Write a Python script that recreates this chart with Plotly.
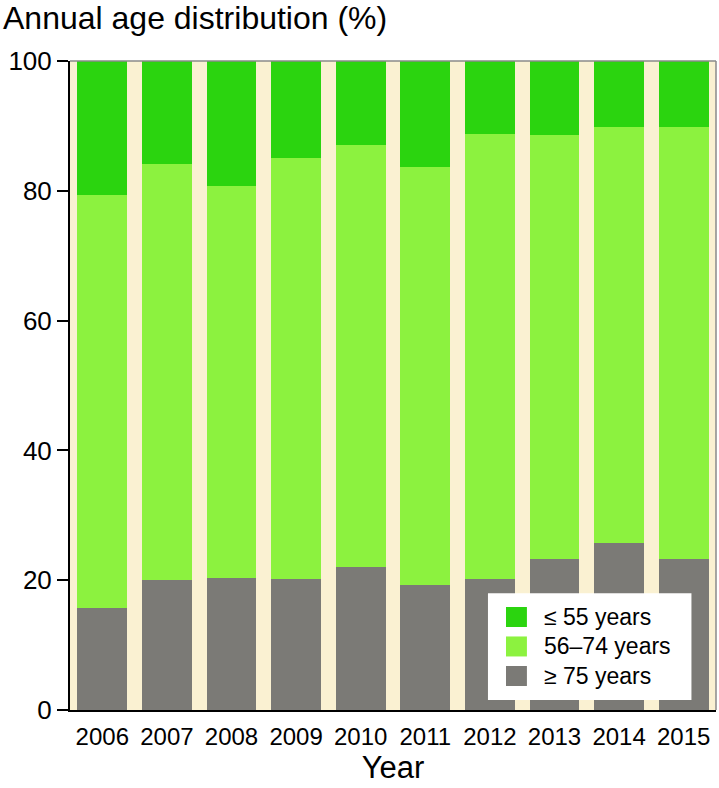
import plotly.graph_objects as go

years = ["2006", "2007", "2008", "2009", "2010", "2011", "2012", "2013", "2014", "2015"]
age_75_plus = [15.7, 20.1, 20.4, 20.2, 22.0, 19.2, 20.2, 23.2, 25.7, 23.2]
age_56_74 = [63.7, 64.0, 60.3, 64.9, 65.0, 64.5, 68.5, 65.4, 64.1, 66.7]
age_55_under = [20.6, 15.9, 19.3, 14.9, 13.0, 16.3, 11.3, 11.4, 10.2, 10.1]
series_names = ["≤ 55 years", "56–74 years", "≥ 75 years"]
y_ticks = [0, 20, 40, 60, 80, 100]

FONT = "Liberation Sans, Arial, Helvetica, sans-serif"
C_DARK = "#2bd40f"
C_LIGHT = "#8cf23f"
C_GRAY = "#7b7a76"

fig = go.Figure()
fig.add_trace(go.Bar(x=years, y=age_75_plus, name=series_names[2],
                     marker=dict(color=C_GRAY, line=dict(width=0))))
fig.add_trace(go.Bar(x=years, y=age_56_74, name=series_names[1],
                     marker=dict(color=C_LIGHT, line=dict(width=0))))
fig.add_trace(go.Bar(x=years, y=age_55_under, name=series_names[0],
                     marker=dict(color=C_DARK, line=dict(width=0))))

# manual legend (box, swatches, labels) in paper coordinates
L = dict(x0=0.647, x1=0.962, y0=0.0154, y1=0.180,
         sx0=0.6749, sx1=0.7073, tx=0.7307, rows=[0.1433, 0.0979, 0.0524], sh=0.0154)
shapes = [
    dict(type="line", xref="paper", yref="paper", x0=0, x1=1, y0=1, y1=1,
         line=dict(color="#8a8a8a", width=1.5)),
    dict(type="line", xref="paper", yref="paper", x0=1, x1=1, y0=0, y1=1,
         line=dict(color="#8a8a8a", width=1.5)),
    dict(type="rect", xref="paper", yref="paper", x0=L["x0"], x1=L["x1"],
         y0=L["y0"], y1=L["y1"], fillcolor="white", line=dict(width=0), layer="above"),
]
annotations = []
for name, col, yc in zip(series_names, [C_DARK, C_LIGHT, C_GRAY], L["rows"]):
    shapes.append(dict(type="rect", xref="paper", yref="paper", x0=L["sx0"], x1=L["sx1"],
                       y0=yc - L["sh"], y1=yc + L["sh"], fillcolor=col,
                       line=dict(width=0), layer="above"))
    annotations.append(dict(text=name, xref="paper", yref="paper", x=L["tx"], y=yc,
                            xanchor="left", yanchor="middle", showarrow=False,
                            font=dict(size=23, family=FONT, color="black")))

fig.update_layout(
    barmode="stack",
    bargap=0.227,
    width=719, height=788,
    margin=dict(l=70, r=3, t=61, b=78),
    paper_bgcolor="white",
    plot_bgcolor="#faf1d2",
    font=dict(family=FONT, color="black", size=24),
    title=dict(text="Annual age distribution (%)", x=3 / 719, xanchor="left",
               y=1 - 18 / 788, yanchor="middle", xref="container", yref="container",
               font=dict(size=32, family=FONT)),
    showlegend=False,
    xaxis=dict(showline=True, linecolor="black", linewidth=2, ticks="",
               tickfont=dict(size=24), showgrid=False, ticklabelstandoff=4,
               title=dict(text="Year", font=dict(size=31), standoff=4)),
    yaxis=dict(range=[0, 100], tickvals=y_ticks,
               showline=True, linecolor="black", linewidth=2, ticks="outside",
               ticklen=11, tickcolor="black", tickwidth=1.5,
               tickfont=dict(size=26), showgrid=False, zeroline=False),
    shapes=shapes,
    annotations=annotations,
)

fig.write_html("out.html", config={"displayModeBar": False},
               post_script="document.body.style.margin='0';")
